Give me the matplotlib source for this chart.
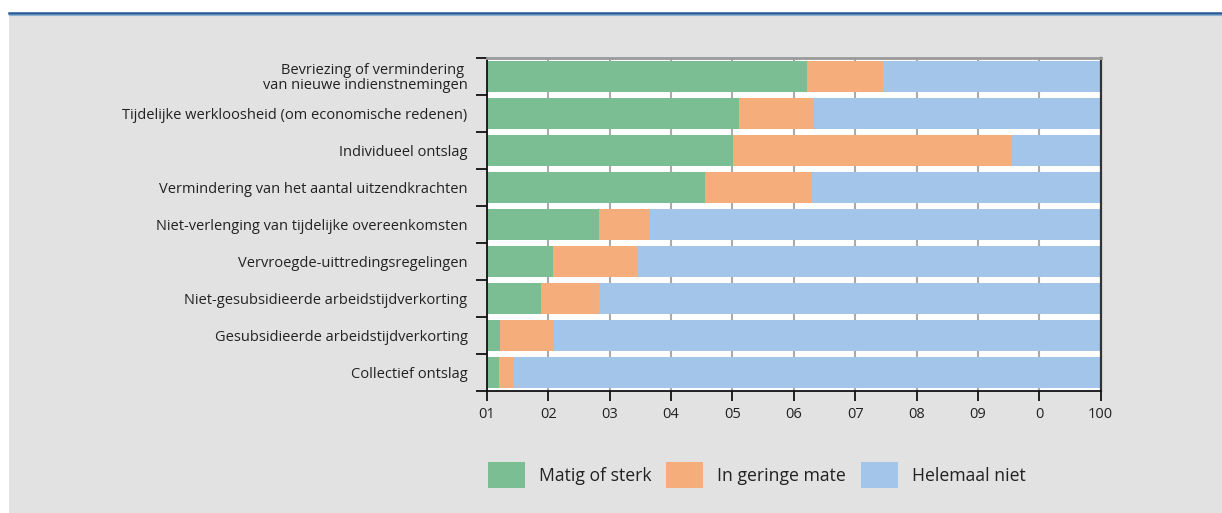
import matplotlib
matplotlib.use("Agg")
import matplotlib.pyplot as plt
from matplotlib.patches import Rectangle
from matplotlib.lines import Line2D
import numpy as np

plt.rcParams['font.family'] = ['Open Sans', 'DejaVu Sans']

categories = [
    "Bevriezing of vermindering \nvan nieuwe indienstnemingen",
    "Tijdelijke werkloosheid (om economische redenen)",
    "Individueel ontslag",
    "Vermindering van het aantal uitzendkrachten",
    "Niet-verlenging van tijdelijke overeenkomsten",
    "Vervroegde-uittredingsregelingen",
    "Niet-gesubsidieerde arbeidstijdverkorting",
    "Gesubsidieerde arbeidstijdverkorting",
    "Collectief ontslag",
]
matig = [52.2, 41.0, 40.1, 35.6, 18.3, 10.8, 8.8, 2.1, 2.0]
gering = [12.4, 12.3, 45.4, 17.3, 8.1, 13.6, 9.5, 8.7, 2.4]
helemaal = [100 - a - b for a, b in zip(matig, gering)]
series_names = ["Matig of sterk", "In geringe mate", "Helemaal niet"]
colors = ["#7bbe94", "#f5ae7b", "#a3c5e9"]
xtick_values = [0, 10, 20, 30, 40, 50, 60, 70, 80, 90, 100]
xtick_labels = ["01", "02", "03", "04", "05", "06", "07", "08", "09", "0", "100"]

W, H = 1222, 513
fig = plt.figure(figsize=(W / 100, H / 100), dpi=100, facecolor="white")
fig.patches.append(Rectangle((9 / W, 0), 1 - 9 / W, 1 - 15 / H, transform=fig.transFigure,
                             facecolor="#e2e2e2", edgecolor="none", zorder=-10))
fig.lines.append(Line2D([9 / W, 1], [1 - 13.2 / H, 1 - 13.2 / H], transform=fig.transFigure,
                        color="#245a96", linewidth=1.8, zorder=-5))
fig.lines.append(Line2D([9 / W, 1], [1 - 15 / H, 1 - 15 / H], transform=fig.transFigure,
                        color="#8fb0d6", linewidth=0.8, zorder=-5))

left, right = 487 / W, 1100.7 / W
bottom, top = 1 - 391 / H, 1 - 58 / H
ax = fig.add_axes([left, bottom, right - left, top - bottom])
ax.set_zorder(1)
ax.set_facecolor("white")

y = np.arange(len(categories))
h = 31 / 37
b1 = ax.barh(y, matig, height=h, color=colors[0], label=series_names[0], zorder=2)
b2 = ax.barh(y, gering, left=matig, height=h, color=colors[1], label=series_names[1], zorder=2)
b3 = ax.barh(y, helemaal, left=[a + b for a, b in zip(matig, gering)], height=h,
             color=colors[2], label=series_names[2], zorder=2)

ax.set_xlim(0, 100)
ax.set_ylim(len(categories) - 0.5, -0.5)

ax.set_xticks(xtick_values)
ax.set_xticklabels(xtick_labels, fontsize=10.5, color="#222222")
ax.tick_params(axis="x", length=7, width=1.3, direction="out", pad=4.5, color="#111111")
ax.xaxis.grid(True, color="#aaaaaa", linewidth=1.5, zorder=1)
ax.set_axisbelow(True)

ax.set_yticks(y)
ax.set_yticklabels(categories, fontsize=10.5, color="#222222", linespacing=0.95)
ax.tick_params(axis="y", which="major", length=0, pad=14)
ax.set_yticks(np.arange(-0.5, len(categories) + 0.5, 1), minor=True)
ax.tick_params(axis="y", which="minor", length=8, width=1.3, color="#111111")

for s in ["left", "bottom"]:
    ax.spines[s].set_color("#111111")
    ax.spines[s].set_linewidth(1.3)
ax.spines["top"].set_color("#9a9a9a")
ax.spines["top"].set_linewidth(2)
ax.spines["right"].set_color("#333333")
ax.spines["right"].set_linewidth(1.6)

leg = fig.legend(handles=[b1, b2, b3], labels=series_names, loc="center left",
                 bbox_to_anchor=(481 / W, 1 - 475 / H), ncol=3, frameon=False,
                 fontsize=12.7, handlelength=2.1, handleheight=1.85,
                 handletextpad=0.8, columnspacing=0.82, borderaxespad=0)
for t in leg.get_texts():
    t.set_color("#222222")

fig.savefig("out.png", dpi=100, facecolor="white")
